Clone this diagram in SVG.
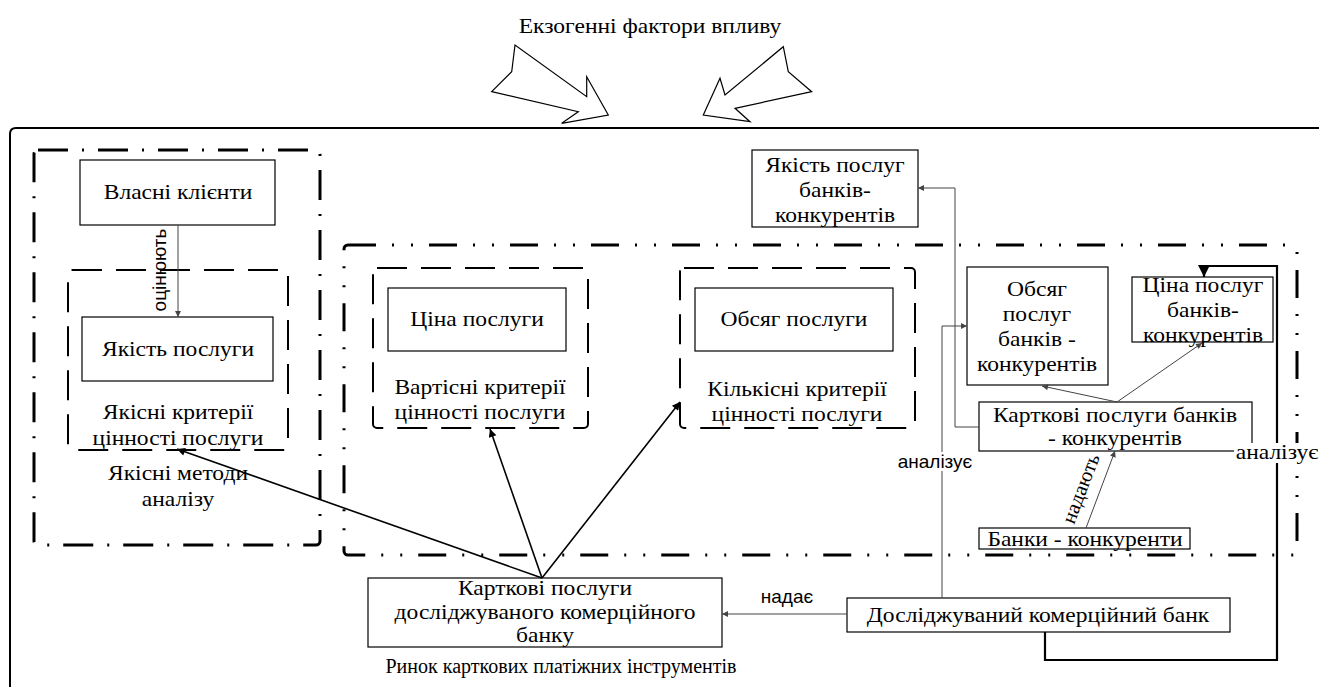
<svg xmlns="http://www.w3.org/2000/svg" width="1319" height="687" viewBox="0 0 1319 687">
<style>
.s{font-family:"Liberation Serif","Times New Roman",serif;font-size:22px;fill:#000;text-anchor:middle}
.ss{font-family:"Liberation Sans",Arial,sans-serif;font-size:19px;fill:#000;text-anchor:middle}
.box{fill:#fff;stroke:#000;stroke-width:1.2}
.dash{fill:none;stroke:#000;stroke-width:2;stroke-dasharray:30 14}
.dd1{fill:none;stroke:#000;stroke-width:3;stroke-dasharray:30 14 2 14}
.dd2{fill:none;stroke:#000;stroke-width:3;stroke-dasharray:28 16 2 17 2 16}
.thin{fill:none;stroke:#444;stroke-width:1}
.med{fill:none;stroke:#000;stroke-width:1.6}
.thick{fill:none;stroke:#000;stroke-width:2.2}
</style>
<defs>
<marker id="aT" viewBox="0 0 10 10" refX="10" refY="5" markerWidth="8" markerHeight="6" markerUnits="userSpaceOnUse" orient="auto"><path d="M0,0 L10,5 L0,10 z" fill="#444"/></marker>
<marker id="aM" viewBox="0 0 10 10" refX="10" refY="5" markerWidth="11" markerHeight="8" markerUnits="userSpaceOnUse" orient="auto"><path d="M0,0 L10,5 L0,10 z" fill="#000"/></marker>
<marker id="aK" viewBox="0 0 10 10" refX="10" refY="5" markerWidth="12" markerHeight="13" markerUnits="userSpaceOnUse" orient="auto"><path d="M0,0 L10,5 L0,10 z" fill="#000"/></marker>
</defs>
<rect width="1319" height="687" fill="#fff"/>

<g id="exogenous">
<text class="s" transform="translate(650,33) scale(1.07,1)">Екзогенні фактори впливу</text>
<polygon points="515,45 511.7,71.7 491.7,91.7 578.3,111.7 561.7,123.3 608.3,115 586.7,76.7 586.7,96.7" fill="#fff" stroke="#000" stroke-width="1.2"/>
<polygon points="783.3,46.7 788.3,71.7 811.7,91.7 735,108.3 750,121.7 703.3,115 720,78.3 725,95" fill="#fff" stroke="#000" stroke-width="1.2"/>
</g>

<g id="market">
<path d="M10,687 V134 Q10,128 16,128 H1319" fill="none" stroke="#000" stroke-width="2"/>
<text class="s" style="font-size:20px" x="561" y="673">Ринок карткових платіжних інструментів</text>
</g>

<g id="qual-methods">
<rect class="dd1" x="34" y="150" width="286" height="395" rx="4"/>
<text class="s" transform="translate(178,480) scale(1.07,1)">Якісні методи</text>
<text class="s" transform="translate(178,506) scale(1.07,1)">аналізу</text>
</g>

<g id="competitor-area">
<rect class="dd2" x="344" y="245" width="953" height="310" rx="4"/>
</g>

<g id="qual-criteria">
<rect class="dash" x="68" y="270" width="220" height="180" rx="4"/>
<text class="s" transform="translate(178,419) scale(1.07,1)">Якісні критерії</text>
<text class="s" transform="translate(178,445) scale(1.07,1)">цінності послуги</text>
</g>

<g id="own-clients">
<rect class="box" x="80" y="160" width="195" height="65"/>
<text class="s" transform="translate(178,199) scale(1.07,1)">Власні клієнти</text>
</g>

<g id="quality">
<rect class="box" x="82" y="317" width="191" height="64"/>
<text class="s" transform="translate(178,356) scale(1.07,1)">Якість послуги</text>
</g>

<g id="cost-criteria">
<rect class="dash" x="373" y="268" width="215" height="160" rx="4"/>
<text class="s" transform="translate(480,394) scale(1.07,1)">Вартісні критерії</text>
<text class="s" transform="translate(480,419) scale(1.07,1)">цінності послуги</text>
</g>

<g id="price">
<rect class="box" x="388" y="288" width="178" height="63"/>
<text class="s" transform="translate(477,326) scale(1.07,1)">Ціна послуги</text>
</g>

<g id="quant-criteria">
<rect class="dash" x="680" y="268" width="235" height="160" rx="4"/>
<text class="s" transform="translate(797,396) scale(1.07,1)">Кількісні критерії</text>
<text class="s" transform="translate(797,421) scale(1.07,1)">цінності послуги</text>
</g>

<g id="volume">
<rect class="box" x="695" y="288" width="198" height="63"/>
<text class="s" transform="translate(794,326) scale(1.07,1)">Обсяг послуги</text>
</g>

<g id="comp-quality">
<rect class="box" x="752" y="150" width="166" height="77" stroke-width="2"/>
<text class="s" transform="translate(835,172) scale(1.07,1)">Якість послуг</text>
<text class="s" transform="translate(835,197) scale(1.07,1)">банків-</text>
<text class="s" transform="translate(835,222) scale(1.07,1)">конкурентів</text>
</g>

<g id="comp-volume">
<rect class="box" x="967" y="267" width="141" height="118"/>
<text class="s" transform="translate(1037,296) scale(1.07,1)">Обсяг</text>
<text class="s" transform="translate(1037,321) scale(1.07,1)">послуг</text>
<text class="s" transform="translate(1037,346) scale(1.07,1)">банків -</text>
<text class="s" transform="translate(1037,371) scale(1.07,1)">конкурентів</text>
</g>

<g id="comp-price">
<rect class="box" x="1132" y="277" width="141" height="65" fill="none"/>
<text class="s" transform="translate(1203,292) scale(1.07,1)">Ціна послуг</text>
<text class="s" transform="translate(1203,317) scale(1.07,1)">банків-</text>
<text class="s" transform="translate(1203,342) scale(1.07,1)">конкурентів</text>
</g>

<g id="comp-cards">
<rect class="box" x="979" y="402" width="273" height="49"/>
<text class="s" transform="translate(1115,422) scale(1.07,1)">Карткові послуги банків</text>
<text class="s" transform="translate(1115,445) scale(1.07,1)">- конкурентів</text>
</g>

<g id="comp-banks">
<rect class="box" x="979" y="528" width="211" height="21"/>
<text class="s" transform="translate(1085,546) scale(1.07,1)">Банки - конкуренти</text>
</g>

<g id="own-cards">
<rect class="box" x="368" y="578" width="354" height="69"/>
<text class="s" transform="translate(545,595) scale(1.07,1)">Карткові послуги</text>
<text class="s" transform="translate(545,619) scale(1.07,1)">досліджуваного комерційного</text>
<text class="s" transform="translate(545,642) scale(1.07,1)">банку</text>
</g>

<g id="studied-bank">
<rect class="box" x="847" y="598" width="383" height="34"/>
<text class="s" transform="translate(1038,622) scale(1.07,1)">Досліджуваний комерційний банк</text>
</g>

<g id="connectors">
<line class="thin" x1="178" y1="225" x2="178" y2="317" marker-end="url(#aT)"/>
<text class="ss" transform="translate(166,270) rotate(-90)">оцінюють</text>

<line class="med" x1="542" y1="578" x2="177" y2="449" marker-end="url(#aM)"/>
<line class="med" x1="542" y1="578" x2="490" y2="429" marker-end="url(#aM)"/>
<line class="med" x1="542" y1="578" x2="680" y2="402" marker-end="url(#aM)"/>

<line class="thin" x1="847" y1="614" x2="722" y2="614" marker-end="url(#aT)"/>
<text class="ss" x="787" y="603">надає</text>

<polyline class="thin" points="942,598 942,326 967,326" marker-end="url(#aT)"/>
<rect x="893" y="452" width="85" height="19" fill="#fff"/>
<text class="ss" x="935" y="468">аналізує</text>

<polyline class="thin" points="979,427 955,427 955,188 918,188" marker-end="url(#aT)"/>

<line class="thin" x1="1117" y1="402" x2="1042" y2="386" marker-end="url(#aT)"/>
<line class="thin" x1="1117" y1="402" x2="1202" y2="343" marker-end="url(#aT)"/>

<line class="thin" x1="1086" y1="528" x2="1115" y2="451" marker-end="url(#aT)"/>
<text class="s" style="font-size:20.5px" transform="translate(1087,491) rotate(-69)">надають</text>

<polyline class="thick" points="1045,632 1045,660 1277,660 1277,266 1204,266 1204,277" marker-end="url(#aK)"/>
<rect x="1234" y="443" width="85" height="20" fill="#fff"/>
<text class="s" transform="translate(1277,459) scale(1.07,1)">аналізує</text>
</g>
</svg>
